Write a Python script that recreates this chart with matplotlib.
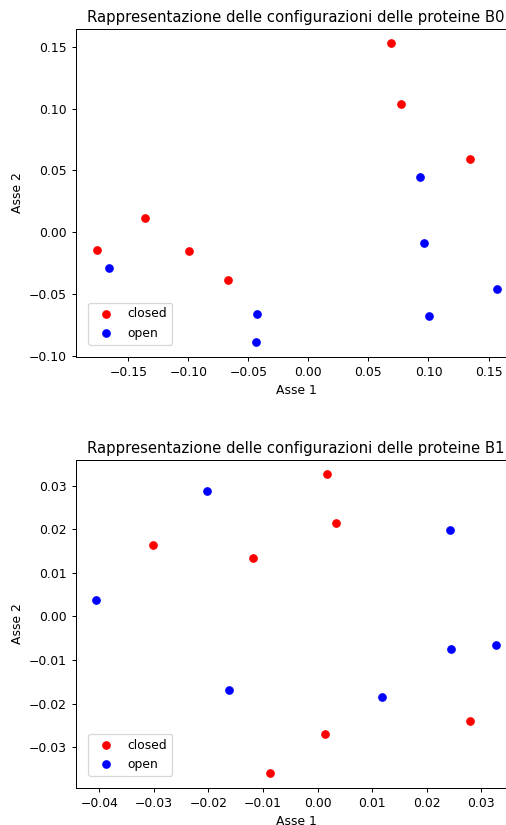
import matplotlib
matplotlib.use("Agg")
import matplotlib.pyplot as plt

# B0 configurations
b0_closed_x = [0.0687, 0.0775, 0.135, -0.1358, -0.1764, -0.0994, -0.0669]
b0_closed_y = [0.1528, 0.104, 0.0593, 0.0118, -0.0141, -0.0154, -0.0383]
b0_open_x = [0.0931, 0.0967, 0.1567, 0.1006, -0.0425, -0.0433, -0.1661]
b0_open_y = [0.0450, -0.0089, -0.0461, -0.0677, -0.0658, -0.0887, -0.0289]

# B1 configurations
b1_closed_x = [0.00177, 0.00342, -0.0302, -0.0119, 0.0280, 0.00134, -0.00864]
b1_closed_y = [0.0326, 0.0214, 0.0165, 0.0133, -0.0239, -0.0271, -0.0359]
b1_open_x = [-0.0202, 0.0243, -0.0406, 0.0244, 0.0328, -0.0163, 0.0118]
b1_open_y = [0.0289, 0.0198, 0.00386, -0.00753, -0.00654, -0.0169, -0.0185]

DPI = 89


def plot_config(ax, cx, cy, ox, oy, name, xlim, ylim):
    """scatter of closed/open configurations"""
    ax.scatter(cx, cy, color="red", label="closed")
    ax.scatter(ox, oy, color="blue", label="open")
    ax.set_title("Rappresentazione delle configurazioni delle proteine " + name)
    ax.set_xlabel("Asse 1")
    ax.set_ylabel("Asse 2")
    ax.set_xlim(*xlim)
    ax.set_ylim(*ylim)
    ax.legend(loc="lower left", borderaxespad=1.0)


fig = plt.figure(figsize=(506 / DPI, 825 / DPI), dpi=DPI)
ax0 = fig.add_axes([0.150, 0.5673, 0.870, 0.3976])
ax1 = fig.add_axes([0.150, 0.0448, 0.870, 0.3976])

plot_config(ax0, b0_closed_x, b0_closed_y, b0_open_x, b0_open_y, "B0",
            (-0.1936, 0.173), (-0.1008, 0.1644))
plot_config(ax1, b1_closed_x, b1_closed_y, b1_open_x, b1_open_y, "B1",
            (-0.0443, 0.0364), (-0.0394, 0.0359))

plt.savefig("out.png", dpi=DPI)
